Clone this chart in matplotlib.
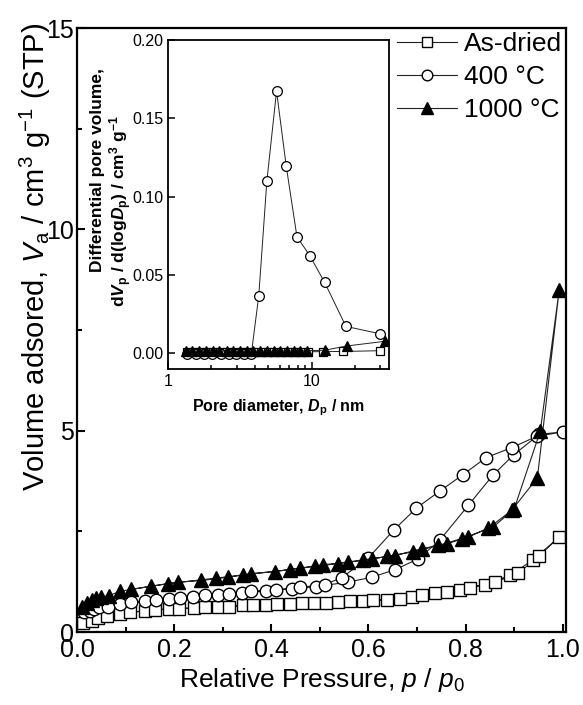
import matplotlib
matplotlib.use("Agg")
import matplotlib.pyplot as plt
from matplotlib.ticker import MultipleLocator, FixedLocator, LogLocator, NullFormatter

plt.rcParams['font.family'] = ['Liberation Sans', 'DejaVu Sans']
plt.rcParams['mathtext.fontset'] = 'custom'
plt.rcParams['mathtext.rm'] = 'Liberation Sans'
plt.rcParams['mathtext.it'] = 'Liberation Sans:italic'
plt.rcParams['mathtext.bf'] = 'Liberation Sans:bold'
plt.rcParams['mathtext.bfit'] = 'Liberation Sans:bold:italic'

# isotherms: adsorption branch then desorption branch (p/p0, V_a)
dried_p = [0.013, 0.03, 0.043, 0.062, 0.088, 0.139, 0.189, 0.24, 0.29, 0.342, 0.389, 0.438,
           0.488, 0.537, 0.589, 0.638, 0.689, 0.737, 0.789, 0.84, 0.892, 0.94, 0.993,
           0.952, 0.909, 0.861, 0.809, 0.761, 0.71, 0.665, 0.61, 0.562, 0.512, 0.463, 0.411,
           0.362, 0.313, 0.263, 0.21, 0.16, 0.11]
dried_v = [0.22, 0.28, 0.35, 0.41, 0.45, 0.53, 0.58, 0.59, 0.63, 0.66, 0.68, 0.70,
           0.72, 0.74, 0.77, 0.80, 0.87, 0.975, 1.05, 1.18, 1.41, 1.80, 2.36,
           1.90, 1.46, 1.24, 1.10, 0.99, 0.93, 0.83, 0.79, 0.76, 0.73, 0.71, 0.69,
           0.67, 0.63, 0.62, 0.58, 0.55, 0.49]

c400_p = [0.015, 0.026, 0.036, 0.046, 0.064, 0.089, 0.139, 0.189, 0.239, 0.29, 0.339, 0.389,
          0.442, 0.493, 0.558, 0.607, 0.655, 0.703, 0.747, 0.806, 0.856, 0.899, 0.952, 1.0,
          0.947, 0.895, 0.842, 0.795, 0.747, 0.699, 0.652, 0.60, 0.545, 0.51, 0.46, 0.41,
          0.359, 0.314, 0.263, 0.213, 0.162, 0.112]
c400_v = [0.49, 0.53, 0.58, 0.62, 0.63, 0.70, 0.76, 0.83, 0.88, 0.93, 0.97, 1.03,
          1.07, 1.13, 1.24, 1.36, 1.55, 1.82, 2.28, 3.15, 3.89, 4.40, 4.91, 4.97,
          4.86, 4.58, 4.33, 3.91, 3.50, 3.08, 2.53, 1.84, 1.35, 1.18, 1.11, 1.05,
          1.01, 0.95, 0.91, 0.85, 0.80, 0.74]

c1000_p = [0.01, 0.02, 0.03, 0.04, 0.05, 0.065, 0.088, 0.153, 0.208, 0.256, 0.311, 0.359,
           0.407, 0.459, 0.507, 0.558, 0.607, 0.655, 0.71, 0.761, 0.806, 0.847, 0.895, 0.948,
           0.993, 0.954, 0.90, 0.857, 0.792, 0.744, 0.692, 0.638, 0.589, 0.538, 0.490, 0.438,
           0.342, 0.287, 0.187, 0.112]
c1000_v = [0.62, 0.72, 0.80, 0.84, 0.88, 0.90, 1.01, 1.14, 1.24, 1.28, 1.36, 1.45,
           1.50, 1.59, 1.67, 1.74, 1.82, 1.90, 2.07, 2.19, 2.36, 2.58, 3.02, 3.83,
           8.5, 4.99, 3.05, 2.61, 2.32, 2.15, 1.99, 1.88, 1.78, 1.70, 1.63, 1.55,
           1.42, 1.34, 1.20, 1.06]

# pore size distributions (inset)
psd400_d = [1.36, 1.57, 1.78, 2.03, 2.35, 2.67, 2.99, 3.40, 3.80, 4.28, 4.87, 5.69, 6.65,
            7.89, 9.68, 12.3, 17.3, 29.9]
psd400_v = [-0.0005, -0.0005, -0.0005, -0.0005, -0.0005, -0.0005, -0.0005, -0.0005, -0.0005,
            0.0366, 0.1096, 0.1673, 0.1192, 0.0743, 0.0623, 0.0451, 0.017, 0.0123]

psd_dried_d = [1.36, 1.50, 1.67, 1.85, 2.06, 2.30, 2.58, 2.88, 3.20, 3.56, 3.97, 4.43, 4.93,
               5.50, 6.12, 6.80, 7.60, 8.45, 9.40, 12.0, 16.5, 30.0]
psd_dried_v = [0.0005, 0.0005, 0.0005, 0.0005, 0.0005, 0.0005, 0.0005, 0.0005, 0.0005, 0.0005,
               0.0005, 0.0005, 0.0005, 0.0005, 0.0005, 0.0006, 0.0006, 0.0007, 0.0008, 0.0009,
               0.0010, 0.0015]

psd1000_d = [1.33, 1.48, 1.65, 1.83, 2.04, 2.27, 2.56, 2.85, 3.17, 3.53, 3.93, 4.38, 4.87,
             5.42, 6.04, 6.72, 7.48, 8.34, 9.27, 12.3, 17.5, 32.4]
psd1000_v = [0.0012, 0.0012, 0.0012, 0.0012, 0.0012, 0.0012, 0.0012, 0.0012, 0.0012, 0.0012,
             0.0012, 0.0012, 0.0012, 0.0012, 0.0012, 0.0013, 0.0013, 0.0014, 0.0015, 0.0018,
             0.0045, 0.0075]

labels = ['As-dried', '400 \u00b0C', '1000 \u00b0C']

fig = plt.figure(figsize=(5.83, 7.05), dpi=100)
ax = fig.add_axes([0.1321, 0.1035, 0.8388, 0.8567])

line_kw = dict(color='#222222', linewidth=0.8, markeredgecolor='black', markeredgewidth=1.0)
ax.plot(dried_p, dried_v, marker='s', markersize=8, markerfacecolor='white', label=labels[0], **line_kw)
ax.plot(c400_p, c400_v, marker='o', markersize=9, markerfacecolor='white', label=labels[1], **line_kw)
ax.plot(c1000_p, c1000_v, marker='^', markersize=10, markerfacecolor='black', label=labels[2], **line_kw)

ax.set_xlim(0, 1.007)
ax.set_ylim(0, 15)
ax.xaxis.set_major_locator(MultipleLocator(0.2))
ax.xaxis.set_minor_locator(MultipleLocator(0.1))
ax.yaxis.set_major_locator(MultipleLocator(5))
ax.yaxis.set_minor_locator(MultipleLocator(2.5))
ax.xaxis.set_major_formatter(plt.FuncFormatter(lambda v, p: '%.1f' % v))
ax.tick_params(which='both', direction='in', labelsize=18, width=1.5)
ax.tick_params(which='major', length=6, pad=4)
ax.tick_params(axis='y', which='major', pad=2)
ax.tick_params(which='minor', length=3.5)
for s in ax.spines.values():
    s.set_linewidth(1.6)

ax.set_xlabel('Relative Pressure, $\\mathit{p}$ / $\\mathit{p}_0$', fontsize=19, labelpad=3)
ax.set_ylabel('Volume adsored, $\\mathit{V}_\\mathrm{a}$ / cm$^3$ g$^{-1}$ (STP)', fontsize=21)
ax.yaxis.set_label_coords(-0.05, 0.622)

ax.legend(loc='upper right', frameon=False, fontsize=19, handlelength=2.3, handletextpad=0.25,
          labelspacing=0.35, borderaxespad=0.0, borderpad=0.15, markerscale=0.85,
          bbox_to_anchor=(1.0, 1.0))

# inset
ins = fig.add_axes([0.2882, 0.4766, 0.3791, 0.4667])
ins_kw = dict(color='#222222', linewidth=0.7, markeredgecolor='black', markeredgewidth=0.9)
ins.plot(psd_dried_d, psd_dried_v, marker='s', markersize=6, markerfacecolor='white', **ins_kw)
ins.plot(psd400_d, psd400_v, marker='o', markersize=7, markerfacecolor='white', **ins_kw)
ins.plot(psd1000_d, psd1000_v, marker='^', markersize=7, markerfacecolor='black', **ins_kw)
ins.set_xscale('log')
ins.set_xlim(1, 34.5)
ins.set_ylim(-0.0102, 0.2)
ins.yaxis.set_major_locator(FixedLocator([0.0, 0.05, 0.10, 0.15, 0.20]))
ins.yaxis.set_major_formatter(plt.FuncFormatter(lambda v, p: '%.2f' % v))
ins.xaxis.set_major_locator(FixedLocator([1, 10]))
ins.xaxis.set_major_formatter(plt.FuncFormatter(lambda v, p: '%d' % v))
ins.xaxis.set_minor_locator(LogLocator(base=10, subs=range(2, 10)))
ins.xaxis.set_minor_formatter(NullFormatter())
ins.tick_params(which='both', direction='in', labelsize=11.5, width=1.1)
ins.tick_params(which='major', length=5)
ins.tick_params(which='minor', length=3)
for s in ins.spines.values():
    s.set_linewidth(1.3)
ins.set_xlabel('Pore diameter, $\\mathbfit{D}_\\mathbf{p}$ / nm', fontsize=11.5,
               fontweight='bold', labelpad=6)
# two-line y label, the lines sit at different heights in the original
ins.text(-0.321, 0.605, 'Differential pore volume,', transform=ins.transAxes, rotation=90,
         ha='center', va='center', fontsize=12.5, fontweight='bold')
ins.text(-0.213, 0.48,
         'd$\\mathbfit{V}_\\mathbf{p}$ / d(log$\\mathbfit{D}_\\mathbf{p}$) / cm$^\\mathbf{3}$ g$^\\mathbf{-1}$',
         transform=ins.transAxes, rotation=90, ha='center', va='center', fontsize=12.5,
         fontweight='bold')

fig.savefig('out.png', dpi=100)
